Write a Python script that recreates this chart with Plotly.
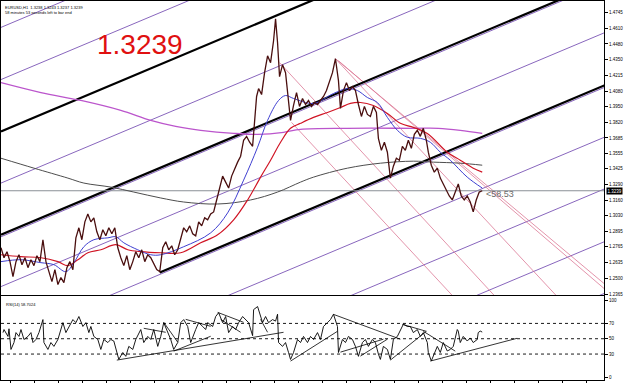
import plotly.graph_objects as go

# ---------------- data ----------------
bar_x = [0,3,6,9,12,15,18,21,24,27,30,33,36,39,42,45,48,51,54,57,60,63,66,69,72,75,78,81,84,87,90,93,96,99,102,105,108,111,114,117,120,123,126,129,132,135,138,141,144,147,150,153,156,159,162,165,168,171,174,177,180,183,186,189,192,195,198,201,204,207,210,213,216,219,222,225,228,231,234,237,240,243,246,249,252,254,256,258,261,264,267,270,273,275,277,279,282,285,288,290,293,296,299,302,305,308,311,314,317,320,323,326,329,332,335,338,340,343,346,349,352,355,358,361,364,367,370,373,376,378,381,384,387,390,393,396,399,402,405,408,411,414,417,420,423,426,428,431,434,437,440,443,446,449,452,455,458,461,464,467,470,473,476,479,482]
close = [1.2757,1.2673,1.2724,1.2640,1.2513,1.2640,1.2698,1.2614,1.2673,1.2589,1.2656,1.2606,1.2690,1.2640,1.2825,1.2640,1.2555,1.2471,1.2572,1.2446,1.2505,1.2463,1.2589,1.2640,1.2572,1.2841,1.2926,1.2825,1.2976,1.3043,1.2976,1.3010,1.2892,1.2825,1.2909,1.2858,1.2926,1.2875,1.2926,1.2757,1.2673,1.2606,1.2690,1.2572,1.2640,1.2724,1.2673,1.2740,1.2640,1.2698,1.2673,1.2623,1.2572,1.2555,1.2757,1.2808,1.2740,1.2774,1.2698,1.2740,1.2825,1.2926,1.2892,1.2942,1.2875,1.2858,1.2976,1.2942,1.3010,1.2993,1.3043,1.3060,1.3161,1.3262,1.3363,1.3312,1.3262,1.3363,1.3430,1.3481,1.3531,1.3666,1.3699,1.3649,1.3615,1.3800,1.4036,1.4103,1.4052,1.4237,1.4380,1.4322,1.4507,1.4692,1.4490,1.4204,1.4305,1.4237,1.4019,1.3834,1.3960,1.4069,1.3952,1.4019,1.3968,1.4002,1.3952,1.3985,1.3968,1.4002,1.4036,1.4086,1.4170,1.4237,1.4355,1.4170,1.3935,1.4086,1.4153,1.4086,1.4120,1.4086,1.3968,1.3867,1.3952,1.3884,1.3867,1.3952,1.3901,1.3682,1.3581,1.3649,1.3565,1.3346,1.3447,1.3514,1.3497,1.3615,1.3581,1.3666,1.3598,1.3716,1.3750,1.3699,1.3767,1.3666,1.3565,1.3455,1.3396,1.3430,1.3346,1.3296,1.3245,1.3195,1.3161,1.3228,1.3296,1.3195,1.3161,1.3195,1.3144,1.3060,1.3161,1.3228,1.3239]

ma_blue_x = [0,20,40,53,65,73,83,93,107,115,123,137,150,160,183,210,227,243,257,267,278,285,293,313,333,347,357,367,377,387,397,407,420,430,440,450,467,482]
ma_blue = [1.2640,1.2656,1.2631,1.2614,1.2555,1.2631,1.2766,1.2825,1.2841,1.2850,1.2799,1.2740,1.2698,1.2698,1.2766,1.2883,1.3052,1.3329,1.3607,1.3834,1.4002,1.4044,1.4019,1.3977,1.4061,1.4103,1.4086,1.4027,1.3985,1.3859,1.3750,1.3691,1.3682,1.3649,1.3565,1.3497,1.3354,1.3262]

ma_red_x = [0,20,40,57,67,77,87,100,115,127,140,160,180,200,217,233,247,260,270,280,290,300,313,327,340,350,360,373,387,400,413,427,447,460,473,482]
ma_red = [1.2698,1.2682,1.2673,1.2640,1.2606,1.2656,1.2715,1.2740,1.2783,1.2740,1.2724,1.2715,1.2715,1.2799,1.2867,1.2993,1.3161,1.3354,1.3497,1.3649,1.3767,1.3809,1.3859,1.3901,1.3943,1.3977,1.3985,1.3960,1.3893,1.3809,1.3775,1.3724,1.3565,1.3497,1.3430,1.3396]

ma_magenta_x = [0,40,80,120,150,175,200,233,257,283,300,347,413,438,460,482]
ma_magenta = [1.4153,1.4069,1.4002,1.3918,1.3834,1.3783,1.3750,1.3724,1.3716,1.3733,1.3758,1.3767,1.3767,1.3767,1.3750,1.3724]

ma_grey_x = [0,33,67,83,110,133,160,183,217,250,277,300,313,347,380,413,433,460,482]
ma_grey = [1.3514,1.3430,1.3346,1.3304,1.3270,1.3228,1.3178,1.3144,1.3127,1.3161,1.3228,1.3312,1.3354,1.3430,1.3472,1.3489,1.3481,1.3472,1.3455]

# rising channel grid: price at bar 0 and common slope (price per bar)
grid_slope = 0.000355
purple_start = [1.4620, 1.4179, 1.3304, 1.2429, 1.1546, 1.1109, 1.0663, 1.0226, 1.2850, 1.1967]
black_start = [1.3741, 1.2867, 1.1984]
black_from_bar = [0, 0, 159]

# falling (pink) lines: start bar, start price, end bar, end price
pink_x0 = [279, 291, 335, 338, 335]
pink_p0 = [1.4322, 1.3817, 1.4355, 1.4338, 1.4355]
pink_x1 = [494, 452, 604, 604, 556]
pink_p1 = [1.2354, 1.2354, 1.2455, 1.2413, 1.2354]

last_price = 1.3239
price_ticks = [1.4745,1.4610,1.4480,1.4350,1.4215,1.4080,1.3950,1.3820,1.3685,1.3555,1.3425,1.3290,1.3160,1.3030,1.2895,1.2765,1.2635,1.2500,1.2365]

rsi_x = [2,3,7,8,10,13,15,18,20,23,27,30,32,35,38,42,43,47,50,53,57,60,62,65,68,72,75,78,82,85,88,90,93,97,100,103,107,110,113,116,118,122,125,128,132,135,138,140,143,147,150,153,157,160,163,167,170,173,177,180,183,187,190,195,198,202,205,207,212,215,218,222,225,228,232,235,238,242,245,248,252,253,257,260,262,265,268,272,275,277,278,282,285,288,290,293,297,300,303,307,310,313,317,320,323,327,330,333,337,338,342,345,348,352,355,358,362,365,368,372,375,378,380,383,387,390,393,397,400,403,407,410,413,417,420,423,427,428,431,433,437,440,443,447,450,453,457,458,460,463,467,470,473,477,478,480,482]
rsi = [58,62,53,63,36,45,58,53,62,49,53,58,45,49,58,75,45,36,45,40,49,62,71,58,66,75,71,79,66,71,58,66,53,49,36,49,45,49,47,32,23,32,27,40,36,49,58,62,45,53,49,62,40,53,71,58,49,36,45,71,75,66,45,62,71,66,62,71,66,79,84,71,79,58,66,62,71,79,75,71,54,88,92,79,71,79,71,75,73,82,45,40,45,32,23,32,49,45,53,45,53,49,58,49,66,71,75,82,66,32,49,45,53,49,40,27,45,49,40,49,45,30,23,40,36,23,49,53,62,69,66,66,58,62,53,58,45,32,21,27,40,32,45,34,36,40,62,60,45,53,47,51,45,49,58,60,58.7]
rsi_levels = [70, 50, 30]
rsi_ticks = [100, 70, 50, 30, 0]

# RSI trend lines: start bar, start value, end bar, end value
rsi_tl_x0 = [116,143,163,173,185,217,220,260,290,333,340,360,390,402,423,430]
rsi_tl_r0 = [22.1,63.6,71.4,33.8,75.3,84.4,75.3,75.3,20.8,81.8,32.5,27.3,22.1,68.8,59.7,20.8]
rsi_tl_x1 = [283,165,177,210,210,243,240,267,337,400,383,387,426,426,455,517]
rsi_tl_r1 = [58.4,58.4,45.5,53.2,66.2,71.4,58.4,58.4,59.7,49.4,49.4,49.4,59.7,59.7,33.8,50.6]

# ---------------- figure ----------------
W, H = 625, 383
PLOT_R = 604
fig = go.Figure()

def seg(x0, y0, x1, y1, color, width, axes=("x", "y"), dash=None):
    fig.add_trace(go.Scatter(x=[x0, x1], y=[y0, y1], mode="lines",
                             line=dict(color=color, width=width, dash=dash),
                             xaxis=axes[0], yaxis=axes[1], hoverinfo="skip"))

X_END = 720
for p in purple_start:
    seg(0, p, X_END, p + grid_slope * X_END, "#7a55b5", 0.9)
for a, b, c, d in zip(pink_x0, pink_p0, pink_x1, pink_p1):
    seg(a, b, c, d, "#dc7896", 0.8)
for p, b0 in zip(black_start, black_from_bar):
    seg(b0, p + grid_slope * b0, X_END, p + grid_slope * X_END, "#000000", 2.2)

seg(0, last_price, PLOT_R, last_price, "#8a8f96", 1)

fig.add_trace(go.Scatter(x=ma_grey_x, y=ma_grey, mode="lines", line=dict(color="#4d4d4d", width=1, shape="spline")))
fig.add_trace(go.Scatter(x=ma_magenta_x, y=ma_magenta, mode="lines", line=dict(color="#bb55cc", width=1.3, shape="spline")))
fig.add_trace(go.Scatter(x=ma_red_x, y=ma_red, mode="lines", line=dict(color="#d01525", width=1.2, shape="spline")))
fig.add_trace(go.Scatter(x=ma_blue_x, y=ma_blue, mode="lines", line=dict(color="#3f3fd0", width=1, shape="spline")))

fig.add_trace(go.Scatter(x=bar_x, y=close, mode="lines", line=dict(color="#4a0f0f", width=1.3)))

for lv in rsi_levels:
    seg(0, lv, PLOT_R, lv, "#000000", 0.9, axes=("x2", "y2"), dash="dot")
for a, b, c, d in zip(rsi_tl_x0, rsi_tl_r0, rsi_tl_x1, rsi_tl_r1):
    seg(a, b, c, d, "#000000", 0.8, axes=("x2", "y2"))
fig.add_trace(go.Scatter(x=rsi_x, y=rsi, mode="lines", line=dict(color="#000000", width=0.9),
                         xaxis="x2", yaxis="y2"))

# ---------------- layout ----------------
p_top, p_bot = 1.4843, 1.2354
dom_price = [1 - 296 / H, 1.0]
dom_rsi = [(H - 381) / H, (H - 297) / H]
xdom = [0, PLOT_R / W]
SMALL = dict(family="Liberation Sans", size=4.5, color="#000000")

axis_common = dict(showgrid=False, zeroline=False, showline=True, mirror=True,
                   linecolor="#000000", linewidth=1)
fig.update_layout(
    width=W, height=H, margin=dict(l=0, r=0, t=0, b=0),
    paper_bgcolor="white", plot_bgcolor="white", showlegend=False,
    xaxis=dict(domain=xdom, range=[0, PLOT_R], showticklabels=False, ticks="", anchor="y", **axis_common),
    yaxis=dict(domain=dom_price, range=[p_bot, p_top], side="right", anchor="x",
               tickvals=price_ticks, ticktext=[f"{v:.4f}" for v in price_ticks],
               ticks="outside", ticklen=3, tickcolor="#000000", tickfont=SMALL, **axis_common),
    xaxis2=dict(domain=xdom, range=[0, PLOT_R], showticklabels=False, ticks="outside", ticklen=2,
                tick0=10, dtick=24, tickcolor="#000000", anchor="y2", **axis_common),
    yaxis2=dict(domain=dom_rsi, range=[-3.9, 105.2], side="right", anchor="x2",
                tickvals=rsi_ticks, ticktext=[str(v) for v in rsi_ticks],
                ticks="outside", ticklen=3, tickcolor="#000000", tickfont=SMALL, **axis_common),
)

TINY = dict(family="Liberation Sans", size=4, color="#000000")
ann = [
    dict(text="EURUSD,H1  1.3238 1.3243 1.3237 1.3239", x=2 / W, y=1 - 2 / H, xanchor="left", yanchor="top", font=TINY),
    dict(text="58 minutes 53 seconds left to bar end", x=2 / W, y=1 - 7 / H, xanchor="left", yanchor="top", font=TINY),
    dict(text="1.3239", x=139 / W, y=1 - 44 / H, xanchor="center", yanchor="middle",
         font=dict(family="Liberation Sans", size=28, color="#e01010")),
    dict(text="RSI(14) 58.7024", x=3 / W, y=1 - 301 / H, xanchor="left", yanchor="top", font=TINY),
    dict(text="<58.53", x=500 / W, y=1 - 194 / H, xanchor="center", yanchor="middle",
         font=dict(family="Liberation Sans", size=9, color="#6a6a6a")),
    dict(text="1.3239", x=(PLOT_R + 2) / W, y=1 - 191 / H, xanchor="left", yanchor="middle",
         bgcolor="#000000", borderpad=0.5,
         font=dict(family="Liberation Sans", size=4.5, color="#ffffff")),
]
for a in ann:
    a.update(xref="paper", yref="paper", showarrow=False)
fig.update_layout(annotations=ann)

fig.write_html("out.html")
